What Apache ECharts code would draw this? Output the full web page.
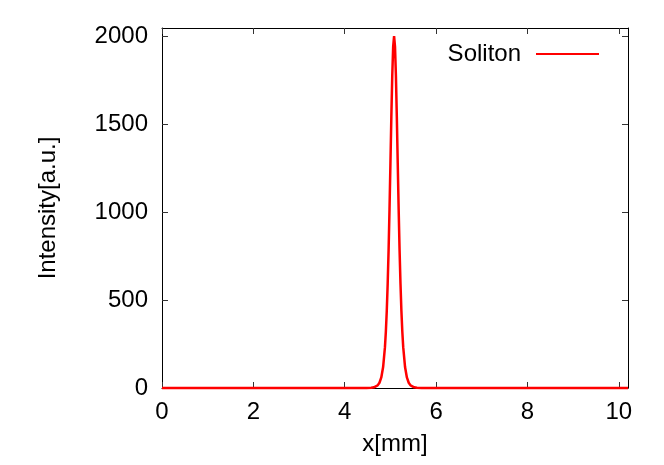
<!DOCTYPE html>
<html>
<head>
<meta charset="utf-8">
<script src="https://cdn.jsdelivr.net/npm/echarts@6/dist/echarts.min.js"></script>
<style>
  html, body { margin: 0; padding: 0; background: #fff; }
  #chart { width: 664px; height: 465px; }
</style>
</head>
<body>
<div id="chart"></div>
<script>
// values
const seriesName = "Soliton";
const xValues = [0, 4.48, 4.58, 4.64, 4.68, 4.72, 4.76, 4.80, 4.84, 4.88, 4.90, 4.92, 4.94, 4.96, 4.98, 5.00, 5.02, 5.04, 5.06,
  5.08, 5.10, 5.12, 5.14, 5.16, 5.18, 5.20, 5.22, 5.24, 5.26, 5.28, 5.32, 5.36, 5.40, 5.44, 5.48, 5.52, 5.58, 5.68, 10.2];
const yValues = [0, 0, 1, 4, 8, 15, 30, 60, 119, 232, 321, 439, 594, 785, 1017, 1276, 1541, 1776, 1940,
  2000, 1940, 1776, 1541, 1276, 1017, 785, 594, 439, 321, 232, 119, 60, 30, 15, 8, 4, 1, 0, 0];
const xTicks = [0, 2, 4, 6, 8, 10];
const yTicks = [0, 500, 1000, 1500, 2000];

const font = "Liberation Sans";
const fs = 24;
const points = xValues.map((x, i) => [x, yValues[i]]);

const chart = echarts.init(document.getElementById("chart"));
const hidden = { show: false };
const border = { show: true, onZero: false, lineStyle: { color: "#000", width: 1 } };
const tick = (vals) => ({ show: true, inside: true, length: 6, customValues: vals, lineStyle: { color: "#333" } });

chart.setOption({
  animation: false,
  backgroundColor: "#fff",
  textStyle: { fontFamily: font },
  grid: { left: 162, right: 36, top: 28, bottom: 77 },
  legend: {
    right: 60, top: 37,
    align: "right",
    itemWidth: 63, itemHeight: 2,
    data: [{ name: seriesName, icon: "rect" }],
    textStyle: { fontFamily: font, fontSize: fs, color: "#000", padding: [0, 10, 0, 0] }
  },
  xAxis: [{
    type: "value", min: 0, max: 10.2,
    name: "x[mm]", nameLocation: "middle", nameGap: 44,
    nameTextStyle: { fontFamily: font, fontSize: fs, color: "#000" },
    axisLine: border,
    axisTick: tick(xTicks),
    axisLabel: { margin: 12, fontSize: fs, color: "#000", fontFamily: font, customValues: xTicks, formatter: v => String(v) },
    splitLine: hidden
  }, {
    type: "value", position: "top", min: 0, max: 10.2,
    axisLine: border,
    axisTick: tick(xTicks),
    axisLabel: hidden, splitLine: hidden
  }],
  yAxis: [{
    type: "value", min: 0, max: 2046,
    name: "Intensity[a.u.]", nameLocation: "middle", nameGap: 102,
    nameTextStyle: { fontFamily: font, fontSize: fs, color: "#000" },
    axisLine: border,
    axisTick: tick(yTicks),
    axisLabel: { margin: 14, fontSize: fs, color: "#000", fontFamily: font, customValues: yTicks, formatter: v => String(v) },
    splitLine: hidden
  }, {
    type: "value", position: "right", min: 0, max: 2046,
    axisLine: border,
    axisTick: tick(yTicks),
    axisLabel: hidden, splitLine: hidden
  }],
  series: [{
    name: seriesName,
    type: "line",
    data: points,
    showSymbol: false,
    clip: false,
    color: "#ff0000",
    lineStyle: { color: "#ff0000", width: 2.5 }
  }]
});
</script>
</body>
</html>
